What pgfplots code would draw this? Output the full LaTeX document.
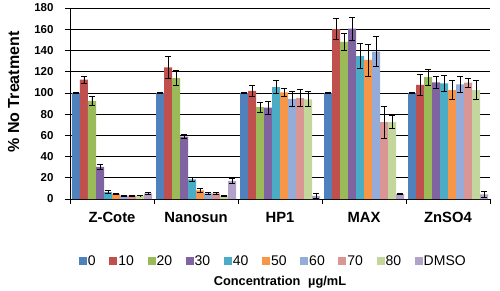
\documentclass[border=0pt]{standalone}
\usepackage{pgfplots}
\pgfplotsset{compat=1.18}
\usepackage{fontspec}
\setmainfont{Liberation Sans}
\definecolor{c0}{HTML}{4F81BD}
\definecolor{c1}{HTML}{C0504D}
\definecolor{c2}{HTML}{9BBB59}
\definecolor{c3}{HTML}{8064A2}
\definecolor{c4}{HTML}{4BACC6}
\definecolor{c5}{HTML}{F79646}
\definecolor{c6}{HTML}{95ACD8}
\definecolor{c7}{HTML}{D99694}
\definecolor{c8}{HTML}{C3D69B}
\definecolor{c9}{HTML}{B3A2C7}
\begin{document}
\begin{tikzpicture}
\useasboundingbox (-70pt,-91pt) rectangle (430pt,199pt);
\begin{axis}[
  scale only axis, width=420pt, height=191pt,
  xmin=-0.5, xmax=4.5, ymin=0, ymax=180,
  axis x line*=bottom, axis y line*=left,
  axis line style={black, line width=0.6pt},
  ytick={0,20,...,180},
  ymajorgrids, grid style={black, line width=0.6pt},
  xtick={0,1,2,3,4},
  xticklabels={Z-Cote,Nanosun,HP1,MAX,ZnSO4},
  minor xtick={-0.5,0.5,1.5,2.5,3.5,4.5},
  major x tick style={draw=none},
  minor x tick style={black, line width=0.6pt},
  y tick style={black, line width=0.6pt},
  tick align=outside,
  major tick length=5pt, minor tick length=5pt,
  /pgf/number format/assume math mode=true,
  yticklabel style={font=\fontsize{11.5}{12}\selectfont\bfseries, xshift=-8pt},
  xticklabel style={font=\fontsize{14.8}{16}\selectfont\bfseries, anchor=base, yshift=-18pt},
  ylabel={\% No Treatment},
  every axis y label/.style={at={(axis description cs:-0.134,0.56)}, rotate=90, anchor=center, font=\fontsize{16}{18}\selectfont\bfseries},
  xlabel={Concentration\hspace{0.6em}µg/mL},
  every axis x label/.style={at={(axis description cs:0.5,-0.454)}, anchor=base, font=\fontsize{12.8}{14}\selectfont\bfseries},
  ybar=0pt, bar width=8pt,
  error bars/y dir=both, error bars/y explicit,
  error bars/error bar style={black, line width=0.8pt},
  error bars/error mark options={rotate=90, black, mark size=2.7pt, line width=0.8pt},
  legend columns=10,
  legend image code/.code={\fill[#1] (0pt,-4pt) rectangle (8pt,4pt);},
  legend style={draw=none, fill=none, at={(axis description cs:0.483,-0.3246)}, anchor=center,
    font=\fontsize{14}{16}\selectfont, nodes={inner xsep=1pt, inner ysep=0pt},
    /tikz/every even column/.append style={column sep=12.6pt}},
]
\addplot[fill=c0, draw=none] coordinates {(0,100) +- (0,0.3) (1,100) +- (0,0.3) (2,100) +- (0,0.3) (3,100) +- (0,0.3) (4,100) +- (0,0.3)};
\addplot[fill=c1, draw=none] coordinates {(0,112.5) +- (0,3.5) (1,124) +- (0,10) (2,102) +- (0,5) (3,160) +- (0,10) (4,107.6) +- (0,10)};
\addplot[fill=c2, draw=none] coordinates {(0,92.5) +- (0,4) (1,114) +- (0,7) (2,86.5) +- (0,5) (3,148) +- (0,8) (4,114.8) +- (0,7.5)};
\addplot[fill=c3, draw=none] coordinates {(0,30.3) +- (0,2) (1,58.8) +- (0,2) (2,86) +- (0,6) (3,160.5) +- (0,11) (4,110) +- (0,5.5)};
\addplot[fill=c4, draw=none] coordinates {(0,6.5) +- (0,1.5) (1,18.4) +- (0,2) (2,105.5) +- (0,6) (3,134.7) +- (0,12) (4,109) +- (0,7.5)};
\addplot[fill=c5, draw=none] coordinates {(0,4.8) +- (0,0.8) (1,8.2) +- (0,2) (2,100.6) +- (0,4) (3,131) +- (0,15) (4,102.6) +- (0,9)};
\addplot[fill=c6, draw=none] coordinates {(0,3.3) +- (0,0.5) (1,5.2) +- (0,1) (2,94.4) +- (0,7) (3,138.8) +- (0,14) (4,108) +- (0,8)};
\addplot[fill=c7, draw=none] coordinates {(0,3.3) +- (0,0.5) (1,5.2) +- (0,1) (2,95) +- (0,8) (3,72.5) +- (0,15) (4,109.6) +- (0,4)};
\addplot[fill=c8, draw=none] coordinates {(0,3.3) +- (0,0.3) (1,3) +- (0,0.3) (2,94) +- (0,7) (3,72.5) +- (0,6) (4,102.6) +- (0,9)};
\addplot[fill=c9, draw=none] coordinates {(0,5.3) +- (0,0.8) (1,17) +- (0,2) (2,3) +- (0,2.7) (3,4.5) +- (0,0.5) (4,4.4) +- (0,3)};
\legend{0,10,20,30,40,50,60,70,80,DMSO}
\end{axis}
\end{tikzpicture}
\end{document}
